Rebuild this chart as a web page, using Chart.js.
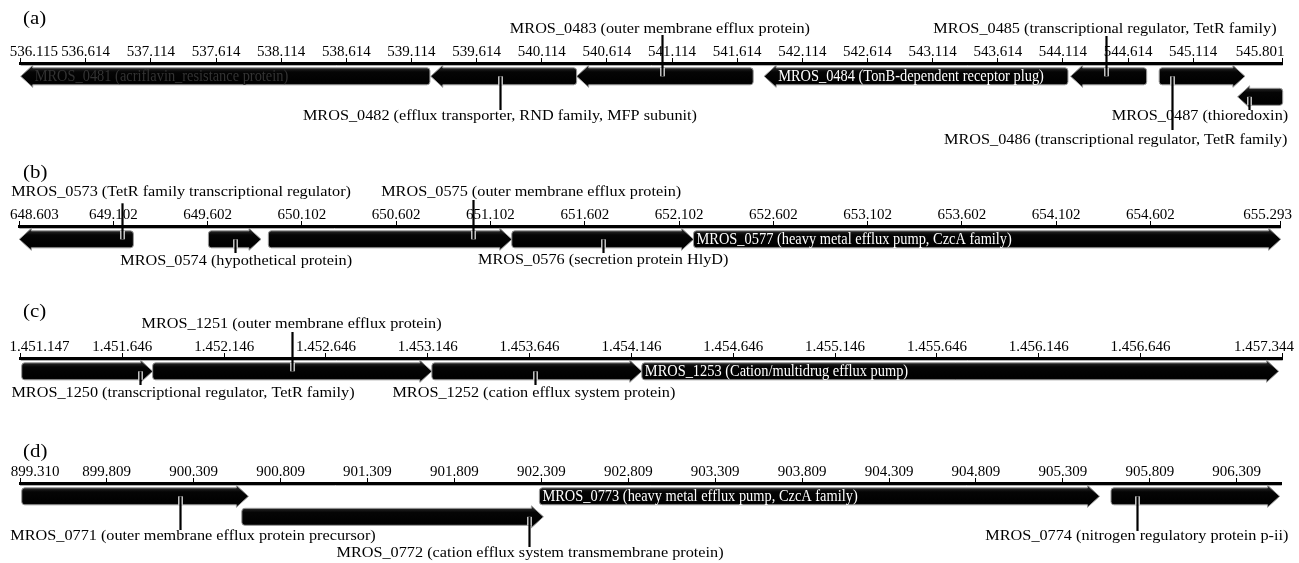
<!DOCTYPE html>
<html><head><meta charset="utf-8">
<script src="https://cdn.jsdelivr.net/npm/chart.js@4.4.1/dist/chart.umd.min.js"></script>
<style>
html,body{margin:0;padding:0;background:#fff;}
#wrap{position:relative;width:1299px;height:563px;overflow:hidden;background:#fff;}
canvas{position:absolute;left:0;}
</style></head><body><div id="wrap">
<canvas id="cA" width="1299" height="150" style="top:0px"></canvas>
<canvas id="cB" width="1299" height="125" style="top:150px"></canvas>
<canvas id="cC" width="1299" height="135" style="top:275px"></canvas>
<canvas id="cD" width="1299" height="153" style="top:410px"></canvas>
</div>
<script>
// ---------------- DATA (positions in kb) ----------------
// Panel (a)
const A_RANGE = [536.115, 545.801];
const A_TICKS = [536.115,536.614,537.114,537.614,538.114,538.614,539.114,539.614,540.114,540.614,541.114,541.614,542.114,542.614,543.114,543.614,544.114,544.614,545.114,545.801];
const A_TICK_LABELS = ['536.115','536.614','537.114','537.614','538.114','538.614','539.114','539.614','540.114','540.614','541.114','541.614','542.114','542.614','543.114','543.614','544.114','544.614','545.114','545.801'];
const A_GENES = ['MROS_0481','MROS_0482','MROS_0483','MROS_0484','MROS_0485','MROS_0486','MROS_0487'];
const A_PRODUCTS = ['acriflavin_resistance protein','efflux transporter, RND family, MFP subunit','outer membrane efflux protein','TonB-dependent receptor plug','transcriptional regulator, TetR family','transcriptional regulator, TetR family','thioredoxin'];
const A_STARTS = [536.115, 539.262, 540.382, 541.821, 544.173, 544.853, 545.455];
const A_ENDS   = [539.256, 540.382, 541.737, 544.153, 544.757, 545.511, 545.801];
const A_STRANDS = [-1,-1,-1,-1,-1,1,-1];
const A_TRACKS  = [1,1,1,1,1,1,2];

// Panel (b)
const B_RANGE = [648.603, 655.293];
const B_TICKS = [648.603,649.102,649.602,650.102,650.602,651.102,651.602,652.102,652.602,653.102,653.602,654.102,654.602,655.293];
const B_TICK_LABELS = ['648.603','649.102','649.602','650.102','650.602','651.102','651.602','652.102','652.602','653.102','653.602','654.102','654.602','655.293'];
const B_GENES = ['MROS_0573','MROS_0574','MROS_0575','MROS_0576','MROS_0577'];
const B_PRODUCTS = ['TetR family transcriptional regulator','hypothetical protein','outer membrane efflux protein','secretion protein HlyD','heavy metal efflux pump, CzcA family'];
const B_STARTS = [648.603, 649.606, 649.924, 651.215, 652.179];
const B_ENDS   = [649.208, 649.885, 651.215, 652.179, 655.293];
const B_STRANDS = [-1,1,1,1,1];
const B_TRACKS  = [1,1,1,1,1];

// Panel (c)
const C_RANGE = [1451.147, 1457.344];
const C_TICKS = [1451.147,1451.646,1452.146,1452.646,1453.146,1453.646,1454.146,1454.646,1455.146,1455.646,1456.146,1456.646,1457.344];
const C_TICK_LABELS = ['1.451.147','1.451.646','1.452.146','1.452.646','1.453.146','1.453.646','1.454.146','1.454.646','1.455.146','1.455.646','1.456.146','1.456.646','1.457.344'];
const C_GENES = ['MROS_1250','MROS_1251','MROS_1252','MROS_1253'];
const C_PRODUCTS = ['transcriptional regulator, TetR family','outer membrane efflux protein','cation efflux system protein','Cation/multidrug efflux pump'];
const C_STARTS = [1451.152, 1451.795, 1453.166, 1454.197];
const C_ENDS   = [1451.795, 1453.166, 1454.197, 1457.324];
const C_STRANDS = [1,1,1,1];
const C_TRACKS  = [1,1,1,1];

// Panel (d)
const D_RANGE = [899.310, 906.568];
const D_TICKS = [899.310,899.809,900.309,900.809,901.309,901.809,902.309,902.809,903.309,903.809,904.309,904.809,905.309,905.809,906.309];
const D_TICK_LABELS = ['899.310','899.809','900.309','900.809','901.309','901.809','902.309','902.809','903.309','903.809','904.309','904.809','905.309','905.809','906.309'];
const D_GENES = ['MROS_0771','MROS_0772','MROS_0773','MROS_0774'];
const D_PRODUCTS = ['outer membrane efflux protein precursor','cation efflux system transmembrane protein','heavy metal efflux pump, CzcA family','nitrogen regulatory protein p-ii'];
const D_STARTS = [899.320, 900.586, 902.298, 905.586];
const D_ENDS   = [900.624, 902.321, 905.520, 906.556];
const D_STRANDS = [1,1,1,1];
const D_TRACKS  = [1,2,1,1];

// ---------------- LAYOUT ----------------
const SERIF = '"Liberation Serif", "Times New Roman", serif';
const LAYOUTS = {
  A: {canvas:'cA', height:150, axisY:63, left:20.7, right:1282.7, letter:'(a)', letterX:23, letterY:19, padFirst:7, padLast:12,
      place:[{inside:true,color:'#333'},
             {lx:539.793, ly:53, px:539.793, py:47},
             {lx:541.021, ly:-34, px:541.034, py:-28},
             {inside:true,color:'#fff'},
             {lx:544.437, ly:-34, px:544.442, py:-27},
             {lx:544.519, ly:77, px:544.953, py:67},
             {lx:545.166, ly:53, px:545.542, py:47}]},
  B: {canvas:'cB', height:125, axisY:76, left:19.3, right:1280.7, letter:'(b)', letterX:23, letterY:23.5, padFirst:8, padLast:7,
      place:[{lx:649.461, ly:-34, px:649.146, py:-22.7},
             {lx:649.753, ly:35, px:649.747, py:27},
             {lx:651.318, ly:-34, px:651.008, py:-26},
             {lx:651.700, ly:34.5, px:651.698, py:27},
             {inside:true,color:'#fff'}]},
  C: {canvas:'cC', height:135, axisY:83, left:20.7, right:1282.7, letter:'(c)', letterX:23, letterY:37, padFirst:10, padLast:10,
      place:[{lx:1451.944, ly:35.5, px:1451.733, py:27},
             {lx:1452.477, ly:-34, px:1452.478, py:-26},
             {lx:1453.667, ly:35.5, px:1453.672, py:27},
             {inside:true,color:'#fff'}]},
  D: {canvas:'cD', height:153, axisY:73, left:20, right:1281.7, letter:'(d)', letterX:23, letterY:42, padFirst:8, padLast:0,
      place:[{lx:900.305, ly:53, px:900.230, py:47},
             {lx:902.244, ly:70, px:902.238, py:64},
             {inside:true,color:'#fff'},
             {lx:905.735, ly:53, px:905.737, py:48}]}
};
const TRACK_AREA = 41;      // px below axis used by the two tracks
const BODY_H = 17;

function drawText(ctx, text, x, y, size, sx, color, align) {
  ctx.save();
  ctx.font = size + 'px ' + SERIF;
  ctx.fillStyle = color;
  ctx.textBaseline = 'middle';
  ctx.textAlign = align || 'center';
  ctx.translate(x, y);
  ctx.scale(sx, 1);
  ctx.fillText(text, 0, 0);
  ctx.restore();
}

function geneShape(ctx, x0, x1, yc, h, strand) {
  const hl = Math.min(12, (x1 - x0) * 0.5);
  const r = 3, hh = h / 2, ho = hh + 2.5;
  ctx.beginPath();
  if (strand > 0) {
    const xb = x1 - hl;
    ctx.moveTo(x0 + r, yc - hh);
    ctx.lineTo(xb, yc - hh);
    ctx.lineTo(xb, yc - ho);
    ctx.lineTo(x1, yc);
    ctx.lineTo(xb, yc + ho);
    ctx.lineTo(xb, yc + hh);
    ctx.lineTo(x0 + r, yc + hh);
    ctx.arcTo(x0, yc + hh, x0, yc + hh - r, r);
    ctx.lineTo(x0, yc - hh + r);
    ctx.arcTo(x0, yc - hh, x0 + r, yc - hh, r);
  } else {
    const xb = x0 + hl;
    ctx.moveTo(x1 - r, yc - hh);
    ctx.lineTo(xb, yc - hh);
    ctx.lineTo(xb, yc - ho);
    ctx.lineTo(x0, yc);
    ctx.lineTo(xb, yc + ho);
    ctx.lineTo(xb, yc + hh);
    ctx.lineTo(x1 - r, yc + hh);
    ctx.arcTo(x1, yc + hh, x1, yc + hh - r, r);
    ctx.lineTo(x1, yc - hh + r);
    ctx.arcTo(x1, yc - hh, x1 - r, yc - hh, r);
  }
  ctx.closePath();
  const g = ctx.createLinearGradient(0, yc - ho, 0, yc + ho);
  g.addColorStop(0, '#3a3a3a');
  g.addColorStop(0.3, '#050505');
  g.addColorStop(0.8, '#000');
  g.addColorStop(1, '#1a1a1a');
  ctx.fillStyle = g;
  ctx.fill();
  ctx.lineWidth = 1;
  ctx.strokeStyle = '#9a9a9a';
  ctx.stroke();
}

function makePlugin(L, genes, products, strands) {
  return {
    id: 'genemap',
    afterDatasetsDraw(chart) {
      const ctx = chart.ctx;
      const xs = chart.scales.x;
      const axisY = chart.chartArea.top;
      // thin light line under the axis
      ctx.save();
      ctx.strokeStyle = '#b0b0b0'; ctx.lineWidth = 1;
      ctx.beginPath(); ctx.moveTo(chart.chartArea.left, axisY + 2.5); ctx.lineTo(chart.chartArea.right, axisY + 2.5); ctx.stroke();
      ctx.restore();
      const meta = chart.getDatasetMeta(0);
      const geo = [];
      meta.data.forEach((el, i) => {
        const p = el.getProps(['x', 'base', 'y', 'height'], true);
        const x0 = Math.min(p.x, p.base), x1 = Math.max(p.x, p.base);
        geneShape(ctx, x0, x1, p.y, p.height, strands[i]);
        geo.push({x0, x1, y: p.y, h: p.height});
      });
      // inside labels
      L.place.forEach((pl, i) => {
        if (!pl.inside) return;
        const g = geo[i];
        const hl = Math.min(12, (g.x1 - g.x0) * 0.5);
        const tx = strands[i] < 0 ? g.x0 + hl + 2 : g.x0 + 3;
        drawText(ctx, genes[i] + ' (' + products[i] + ')', tx, g.y + 0.5, 16, 0.9, pl.color, 'left');
      });
      // outside labels
      L.place.forEach((pl, i) => {
        if (pl.inside) return;
        drawText(ctx, genes[i] + ' (' + products[i] + ')', xs.getPixelForValue(pl.lx), axisY + pl.ly, 14, 1.16, '#000', 'center');
      });
      // leader lines
      L.place.forEach((pl, i) => {
        if (pl.inside) return;
        const g = geo[i];
        const x = Math.round(xs.getPixelForValue(pl.px)) + 0.5;
        const yEnd = axisY + pl.py;
        const edge = pl.py < 0 ? g.y - g.h / 2 : g.y + g.h / 2;
        ctx.save();
        ctx.strokeStyle = '#fff';
        ctx.lineWidth = 4.5;
        ctx.beginPath(); ctx.moveTo(x, g.y); ctx.lineTo(x, edge); ctx.stroke();
        ctx.strokeStyle = '#000';
        ctx.lineWidth = 2.2;
        ctx.beginPath(); ctx.moveTo(x, g.y); ctx.lineTo(x, yEnd); ctx.stroke();
        ctx.restore();
      });
      // panel letter
      drawText(ctx, L.letter, L.letterX, L.letterY, 18, 1.16, '#000', 'left');
    }
  };
}

function buildPanel(L, range, ticks, tickLabels, genes, products, starts, ends, strands, tracks) {
  const data = starts.map((s, i) => ({x: [s, ends[i]], y: tracks[i]}));
  const axisTop = L.axisY;
  const last = tickLabels.length - 1;
  return new Chart(document.getElementById(L.canvas), {
    type: 'bar',
    data: {datasets: [{data, backgroundColor: 'rgba(0,0,0,0)', borderWidth: 0, barThickness: BODY_H}]},
    options: {
      responsive: false, animation: false, devicePixelRatio: 1,
      indexAxis: 'y',
      layout: {padding: {left: L.left, right: 1299 - L.right, top: 0, bottom: L.height - axisTop - TRACK_AREA}},
      plugins: {legend: {display: false}, tooltip: {enabled: false}, title: {display: false}},
      scales: {
        x: {
          type: 'linear', position: 'top', min: range[0], max: range[1],
          afterBuildTicks: (sc) => { sc.ticks = ticks.map(v => ({value: v})); },
          afterFit: (sc) => { sc.height = axisTop; sc.paddingLeft = 0; sc.paddingRight = 0; },
          ticks: {
            autoSkip: false, maxRotation: 0, minRotation: 0, padding: -3, color: '#000',
            font: {family: SERIF, size: 15},
            callback: (v, idx) => {
              let s = tickLabels[idx];
              if (idx === 0) s = ' '.repeat(L.padFirst) + s;
              if (idx === last) s = s + ' '.repeat(L.padLast);
              return s;
            }
          },
          grid: {display: true, drawOnChartArea: false, drawTicks: true, tickLength: 5, color: '#000', lineWidth: 1},
          border: {display: true, color: '#000', width: 3}
        },
        y: {type: 'linear', display: false, min: 0.35, max: 2.35, reverse: true, offset: false}
      }
    },
    plugins: [makePlugin(L, genes, products, strands)]
  });
}

buildPanel(LAYOUTS.A, A_RANGE, A_TICKS, A_TICK_LABELS, A_GENES, A_PRODUCTS, A_STARTS, A_ENDS, A_STRANDS, A_TRACKS);
buildPanel(LAYOUTS.B, B_RANGE, B_TICKS, B_TICK_LABELS, B_GENES, B_PRODUCTS, B_STARTS, B_ENDS, B_STRANDS, B_TRACKS);
buildPanel(LAYOUTS.C, C_RANGE, C_TICKS, C_TICK_LABELS, C_GENES, C_PRODUCTS, C_STARTS, C_ENDS, C_STRANDS, C_TRACKS);
buildPanel(LAYOUTS.D, D_RANGE, D_TICKS, D_TICK_LABELS, D_GENES, D_PRODUCTS, D_STARTS, D_ENDS, D_STRANDS, D_TRACKS);
</script>
</body></html>
